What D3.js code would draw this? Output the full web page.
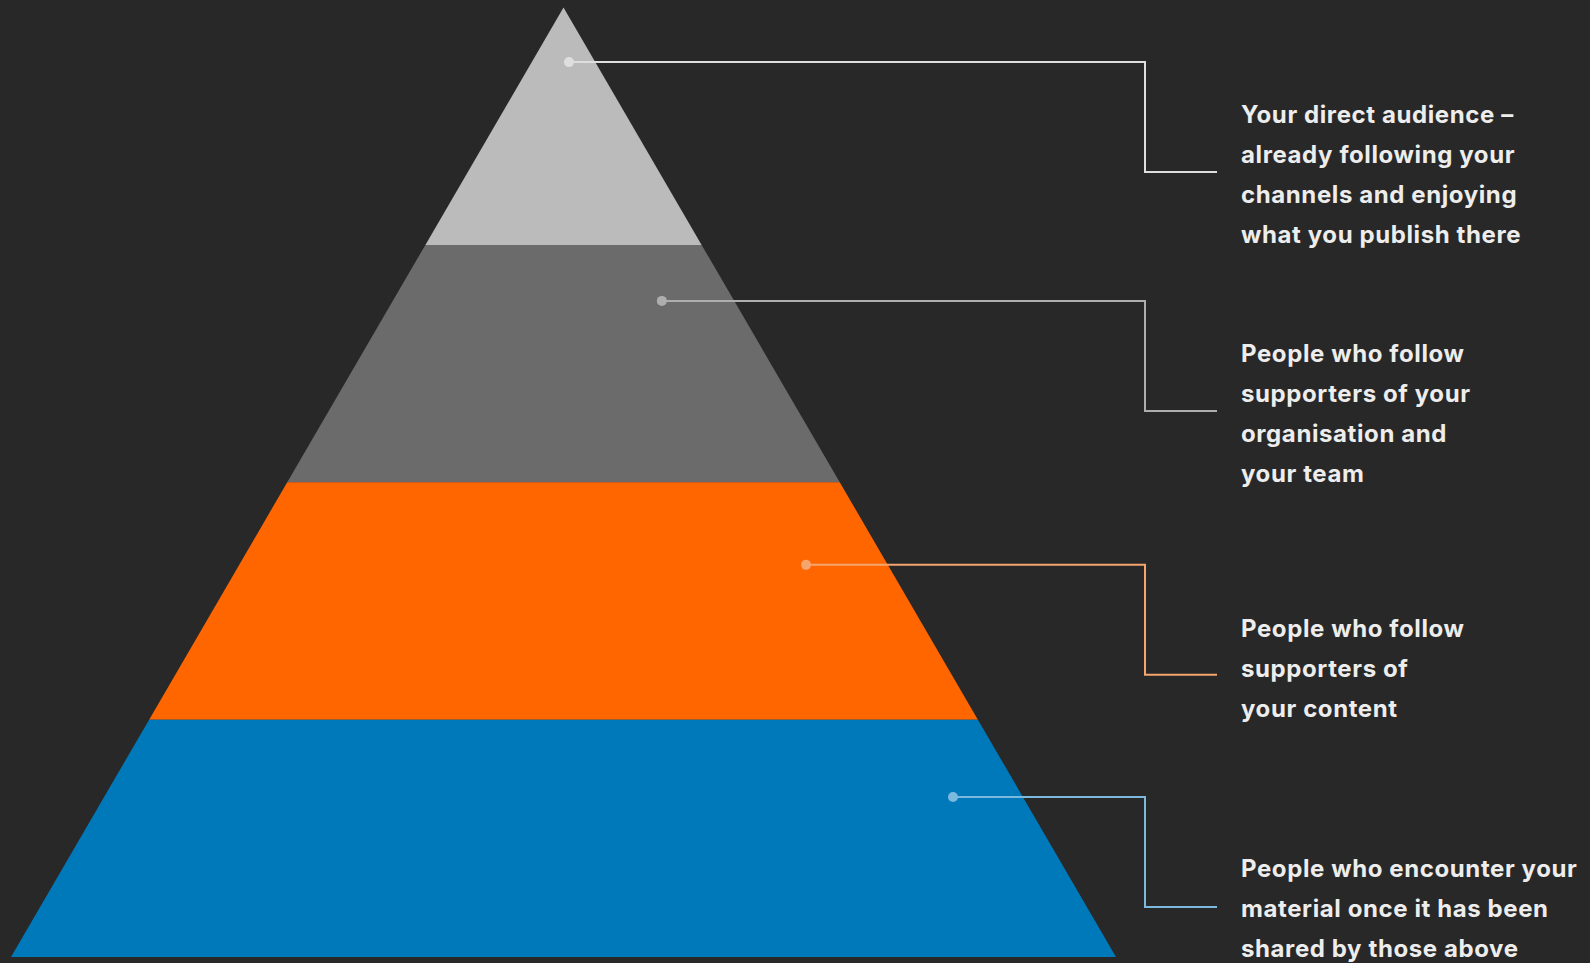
<!DOCTYPE html>
<html>
<head>
<meta charset="utf-8">
<script src="https://cdn.jsdelivr.net/npm/d3@7"></script>
<style>
  html, body { margin: 0; padding: 0; background: #282828; }
  svg { display: block; }
  .label { font-family: Inter, "Noto Sans", sans-serif; font-weight: 700; font-size: 24px; letter-spacing: 0.6px; fill: #ededed; }
</style>
</head>
<body>
<svg id="chart" width="1590" height="963"></svg>
<script>
// pyramid levels, top to bottom
var levels = ["direct", "team", "content", "shared"];
var levelColors = ["#bbbbbb", "#6b6b6b", "#ff6600", "#0079bb"];
var lineColors = ["#dedede", "#aeaeae", "#f5a56d", "#7cb9de"];

var labels = [
  ["Your direct audience –", "already following your", "channels and enjoying", "what you publish there"],
  ["People who follow", "supporters of your", "organisation and", "your team"],
  ["People who follow", "supporters of", "your content"],
  ["People who encounter your", "material once it has been", "shared by those above"]
];

// where each callout dot sits, in pyramid units (x: -1..1 across base, y: 0..4 from apex)
var dotX = [0.01, 0.178, 0.439, 0.705];
var dotY = [0.23, 1.236, 2.348, 3.326];

var svg = d3.select("#chart");
var width = 1590, height = 963;

var x = d3.scaleLinear().domain([-1, 1]).range([11, 1116]);
var y = d3.scaleLinear().domain([0, levels.length]).range([7.5, 957]);

// half width at a given depth (in level units)
function halfAt(d) { return d / levels.length; }

var bands = svg.append("g");
levels.forEach(function(name, i) {
  var t = i, b = i + 1;
  var pts = [
    [x(-halfAt(t)), y(t)],
    [x(halfAt(t)), y(t)],
    [x(halfAt(b)), y(b)],
    [x(-halfAt(b)), y(b)]
  ];
  bands.append("path")
    .attr("d", d3.line()(pts) + "Z")
    .attr("fill", levelColors[i]);
});

var elbowX = 1145, endX = 1217, drop = 110, textX = 1241;
var firstBaseline = [-49, -49, -38, -30];

var callouts = svg.append("g");
levels.forEach(function(name, i) {
  var cx = x(dotX[i]), cy = y(dotY[i]);
  callouts.append("path")
    .attr("d", d3.line()([[cx, cy], [elbowX, cy], [elbowX, cy + drop], [endX, cy + drop]]))
    .attr("fill", "none")
    .attr("stroke", lineColors[i])
    .attr("stroke-width", 2);
  callouts.append("circle")
    .attr("cx", cx).attr("cy", cy).attr("r", 5)
    .attr("fill", lineColors[i]);

  var txt = callouts.append("text")
    .attr("class", "label")
    .attr("x", textX)
    .attr("y", cy + drop + firstBaseline[i]);
  txt.selectAll("tspan")
    .data(labels[i])
    .enter().append("tspan")
      .attr("x", textX)
      .attr("dy", function(d, j) { return j === 0 ? 0 : 40; })
      .text(function(d) { return d; });
});
</script>
</body>
</html>
